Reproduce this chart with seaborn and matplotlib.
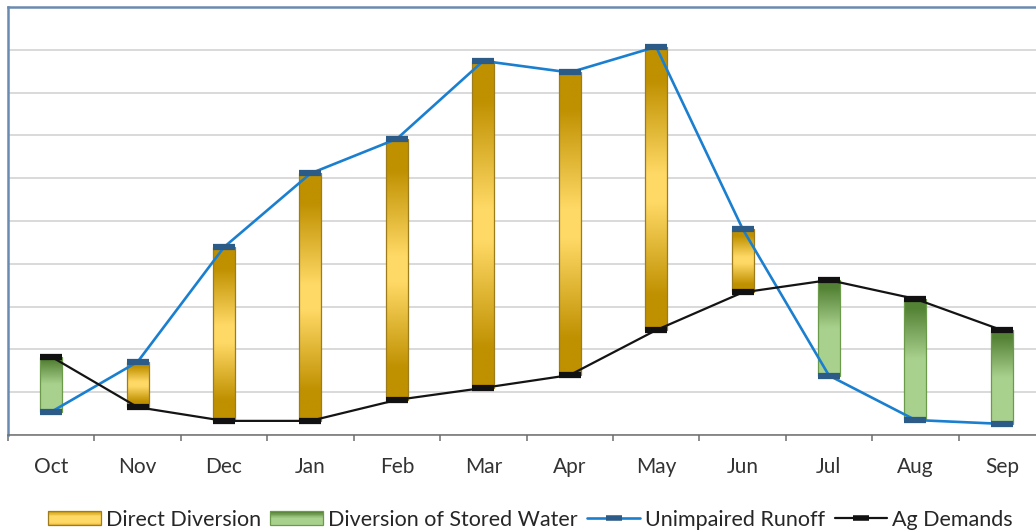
import numpy as np
import pandas as pd
import matplotlib
matplotlib.use("Agg")
import matplotlib.pyplot as plt
import seaborn as sns
from matplotlib.colors import LinearSegmentedColormap
from matplotlib.legend_handler import HandlerBase
from matplotlib.lines import Line2D
from matplotlib.patches import Rectangle, Patch

months = ["Oct", "Nov", "Dec", "Jan", "Feb", "Mar", "Apr", "May", "Jun", "Jul", "Aug", "Sep"]
runoff = [0.54, 1.71, 4.39, 6.11, 6.92, 8.74, 8.47, 9.07, 4.82, 1.39, 0.35, 0.26]
demand = [1.83, 0.65, 0.33, 0.33, 0.82, 1.10, 1.40, 2.45, 3.33, 3.62, 3.18, 2.45]

gold_cmap = LinearSegmentedColormap.from_list(
    "gold", [(0, "#bf9000"), (0.12, "#bf9000"), (0.45, "#ffd966"), (0.55, "#ffd966"),
             (0.88, "#bf9000"), (1, "#bf9000")])
green_cmap = LinearSegmentedColormap.from_list(
    "green", [(0, "#548235"), (0.08, "#548235"), (0.5, "#a9d18e"), (1, "#a9d18e")])
gold_legend = LinearSegmentedColormap.from_list(
    "gold_leg", [(0, "#bf9000"), (0.35, "#ffd966"), (0.8, "#ffd966"), (1, "#e0b030")])

df = pd.DataFrame({"month": months, "runoff": runoff, "demand": demand})

sns.set_theme(style="white")
plt.rcParams["font.family"] = ["Lato", "DejaVu Sans"]

fig = plt.figure(figsize=(10.36, 5.31), dpi=100)
ax = fig.add_axes([8 / 1036, 96 / 531, 1037 / 1036, 428 / 531])

# floating bars between the two series
lo = np.minimum(df["runoff"], df["demand"])
hi = np.maximum(df["runoff"], df["demand"])
direct = df["runoff"] > df["demand"]
bars = ax.bar(np.arange(len(months)), hi - lo, bottom=lo, width=0.255, zorder=2)
for bar, is_direct in zip(bars, direct):
    x0, y0 = bar.get_x(), bar.get_y()
    w, h = bar.get_width(), bar.get_height()
    cmap = gold_cmap if is_direct else green_cmap
    im = ax.imshow(np.linspace(0, 1, 256).reshape(-1, 1), cmap=cmap, origin="upper",
                   extent=(x0, x0 + w, y0, y0 + h), aspect="auto", zorder=1.9)
    im.set_clip_path(bar)
    bar.set_facecolor("none")
    bar.set_edgecolor("#9c7c1c" if is_direct else "#6a9a4a")
    bar.set_linewidth(0.9)

sns.lineplot(data=df, x="month", y="runoff", sort=False, ax=ax, color="#1b7fd0", lw=1.9,
             marker="_", markersize=16, markeredgewidth=4.5, markeredgecolor="#2d5b87", zorder=3)
sns.lineplot(data=df, x="month", y="demand", sort=False, ax=ax, color="#141414", lw=1.6,
             marker="_", markersize=16, markeredgewidth=4.5, markeredgecolor="#111111", zorder=3)

ax.set_xlim(-0.5, 11.5)
ax.set_ylim(0, 10)
ax.set_yticks(np.arange(0, 11, 1))
ax.set_yticklabels([])
ax.yaxis.grid(True, color="#d9d9d9", lw=1.4)
ax.set_axisbelow(True)
ax.set_xlabel("")
ax.set_ylabel("")

ax.set_xticks(np.arange(12))
ax.set_xticklabels(months, fontsize=15, color="#333333")
ax.set_xticks(np.arange(-0.5, 12, 1), minor=True)
ax.tick_params(axis="x", which="major", length=0, pad=16)
ax.tick_params(axis="x", which="minor", length=4.5, width=1.1, color="#6d6d6d", direction="out", bottom=True)
ax.tick_params(axis="y", length=0)

for side in ["left", "top"]:
    ax.spines[side].set_color("#6a8bb0")
    ax.spines[side].set_linewidth(1.8)
ax.spines["right"].set_visible(False)
ax.spines["bottom"].set_color("#6d6d6d")
ax.spines["bottom"].set_linewidth(1.1)


class HandlerGradient(HandlerBase):
    def __init__(self, cmap, edge):
        super().__init__()
        self.cmap = cmap
        self.edge = edge

    def create_artists(self, legend, orig_handle, xdescent, ydescent, width, height, fontsize, trans):
        n = 24
        arts = []
        for i in range(n):
            c = self.cmap(1 - (i + 0.5) / n)
            arts.append(Rectangle((-xdescent, -ydescent + i * height / n), width, height / n + 0.01,
                                  facecolor=c, edgecolor="none", transform=trans))
        arts.append(Rectangle((-xdescent, -ydescent), width, height, fill=False,
                              edgecolor=self.edge, lw=0.9, transform=trans))
        return arts


h_direct = Patch(label="Direct Diversion")
h_stored = Patch(label="Diversion of Stored Water")
h_runoff = Line2D([], [], color="#1b7fd0", lw=1.9, marker="_", markersize=11,
                  markeredgewidth=4, markeredgecolor="#2d5b87")
h_demand = Line2D([], [], color="#141414", lw=1.6, marker="_", markersize=11,
                  markeredgewidth=4, markeredgecolor="#111111")
fig.legend([h_direct, h_stored, h_runoff, h_demand],
           ["Direct Diversion", "Diversion of Stored Water", "Unimpaired Runoff", "Ag Demands"],
           handler_map={h_direct: HandlerGradient(gold_legend, "#9c7c1c"),
                        h_stored: HandlerGradient(green_cmap, "#6a9a4a")},
           loc="lower center", bbox_to_anchor=(0.512, -0.034), ncol=4, frameon=False,
           fontsize=15.5, handlelength=2.45, handleheight=0.65, handletextpad=0.23,
           columnspacing=0.45, labelcolor="#262626")

fig.savefig("out.png", dpi=100)
